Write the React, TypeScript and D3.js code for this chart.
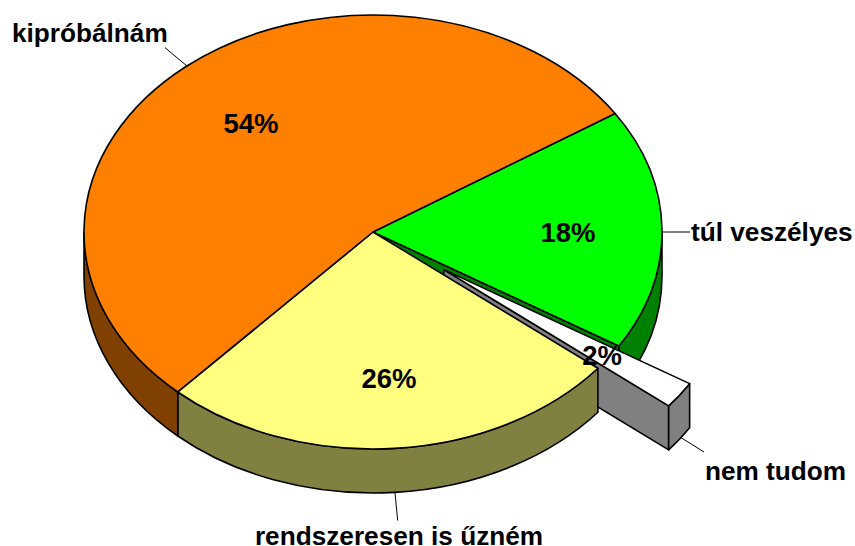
import React from "react";
import * as d3 from "d3";

const categories = ["túl veszélyes", "nem tudom", "rendszeresen is űzném", "kipróbálnám"];
const values = [18, 2, 26, 54];
const percentLabels = ["18%", "2%", "26%", "54%"];
const topColors = ["#00FF00", "#FFFFFF", "#FFFF80", "#FF8000"];
const sideColors = ["#008000", "#808080", "#808040", "#804000"];
const explode = [0, 0.3, 0, 0];

const cx = 373, cy = 232, rx = 289, ry = 217, depth = 44;
const startDeg = 56.9;
const start = (startDeg * Math.PI) / 180;
const arcs = d3.pie<number>().sort(null).startAngle(start).endAngle(start + 2 * Math.PI)(values);

const labelPos: [number, number, string][] = [
  [568, 232, "middle"],
  [602, 355, "middle"],
  [389, 378, "middle"],
  [251, 123, "middle"],
];
const namePos: [number, number, string][] = [
  [691, 232, "start"],
  [705, 471, "start"],
  [399, 536, "middle"],
  [12, 33, "start"],
];
const leaders: [number, number, number, number][] = [
  [662, 232, 690, 232],
  [680, 437, 704, 452],
  [395, 493, 397.7, 520.5],
  [187, 66, 165, 47.7],
];

function center(i: number): [number, number] {
  const m = (arcs[i].startAngle + arcs[i].endAngle) / 2;
  return [cx + explode[i] * rx * Math.sin(m), cy - explode[i] * ry * Math.cos(m)];
}
function pt(i: number, a: number, dz = 0): [number, number] {
  const [x, y] = center(i);
  return [x + rx * Math.sin(a), y - ry * Math.cos(a) + dz];
}
function arcTo(i: number, a: number, dz: number, sweep: number, large = 0) {
  const [x, y] = pt(i, a, dz);
  return `A${rx},${ry} 0 ${large} ${sweep} ${x},${y}`;
}
function topPath(i: number) {
  const { startAngle: a0, endAngle: a1 } = arcs[i];
  const [x, y] = center(i);
  const p0 = pt(i, a0);
  return `M${x},${y}L${p0[0]},${p0[1]}${arcTo(i, a1, 0, 1, a1 - a0 > Math.PI ? 1 : 0)}Z`;
}
function rimPath(i: number, a0: number, a1: number) {
  const p0 = pt(i, a0);
  const p1 = pt(i, a1, depth);
  return `M${p0[0]},${p0[1]}${arcTo(i, a1, 0, 1)}L${p1[0]},${p1[1]}${arcTo(i, a0, depth, 0)}Z`;
}
function wallPath(i: number, a: number) {
  const [x, y] = center(i);
  const p = pt(i, a);
  return `M${x},${y}L${p[0]},${p[1]}L${p[0]},${p[1] + depth}L${x},${y + depth}Z`;
}

const hPi = Math.PI / 2;
const sw = 1.6;

export default function App() {
  const fam = "'Liberation Sans', Arial, sans-serif";
  const drawOrder = [0, 1, 2, 3];
  return (
    <svg width={855} height={546} style={{ position: "absolute", left: 0, top: 0, background: "#fff" }}>
      {leaders.map((l, i) => (
        <line key={i} x1={l[0]} y1={l[1]} x2={l[2]} y2={l[3]} stroke="#000" strokeWidth={1} />
      ))}
      {drawOrder.map((i) => {
        const { startAngle: a0, endAngle: a1 } = arcs[i];
        const common = { stroke: "#000", strokeWidth: sw, strokeLinejoin: "round" as const };
        const side = sideColors[i];
        const parts: React.ReactNode[] = [];
        if (i === 0) {
          parts.push(<path key="w" d={wallPath(i, a1)} fill={side} {...common} />);
          parts.push(<path key="r" d={rimPath(i, hPi, a1)} fill={side} {...common} />);
        }
        if (i === 1) {
          parts.push(<path key="w" d={wallPath(i, a1)} fill={side} {...common} />);
          parts.push(<path key="r" d={rimPath(i, a0, a1)} fill={side} {...common} />);
        }
        if (i === 2) {
          parts.push(<path key="r" d={rimPath(i, a0, a1)} fill={side} {...common} />);
        }
        if (i === 3) {
          parts.push(<path key="r" d={rimPath(i, a0, 1.5 * Math.PI)} fill={side} {...common} />);
        }
        parts.push(<path key="t" d={topPath(i)} fill={topColors[i]} {...common} />);
        return <g key={i}>{parts}</g>;
      })}
      {percentLabels.map((t, i) => (
        <text key={t} x={labelPos[i][0]} y={labelPos[i][1]} dy="0.35em" textAnchor={labelPos[i][2] as any}
          fontFamily={fam} fontWeight="bold" fontSize={27.5} fill="#000">{t}</text>
      ))}
      {categories.map((t, i) => (
        <text key={t} x={namePos[i][0]} y={namePos[i][1]} dy="0.35em" textAnchor={namePos[i][2] as any}
          fontFamily={fam} fontWeight="bold" fontSize={26.2} fill="#000">{t}</text>
      ))}
    </svg>
  );
}
